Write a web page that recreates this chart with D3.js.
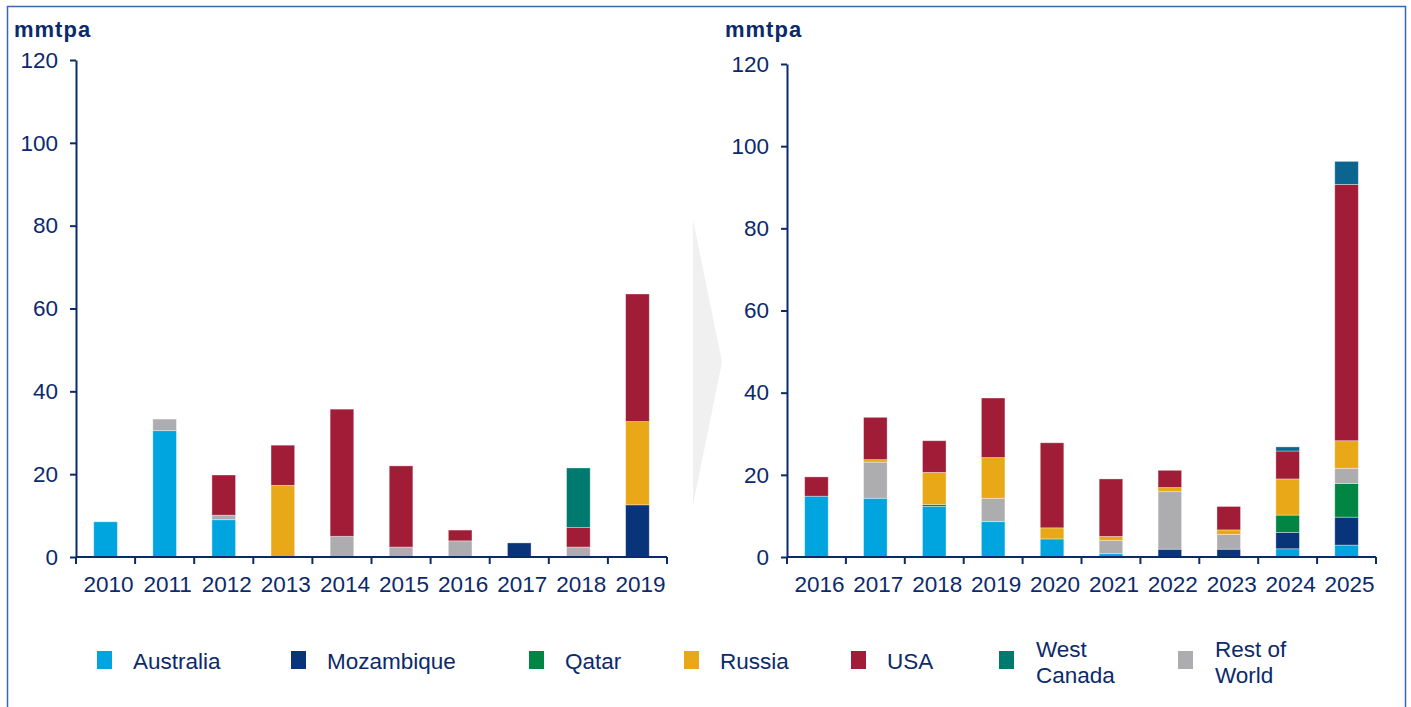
<!DOCTYPE html>
<html>
<head>
<meta charset="utf-8">
<script src="https://cdn.jsdelivr.net/npm/d3@7"></script>
<style>
  body { margin: 0; background: #ffffff; }
  svg text { font-family: "Liberation Sans", Arial, sans-serif; fill: #0b2a6b; }
</style>
</head>
<body>
<div id="chart"></div>
<script>

// series order in the stacks (bottom to top)
const seriesKeys = ['Australia', 'Mozambique', 'Qatar', 'Rest of World', 'Russia', 'USA', 'West Canada'];

// legend order
const legendKeys = ['Australia', 'Mozambique', 'Qatar', 'Russia', 'USA', 'West Canada', 'Rest of World'];

// left panel, 2010-2019
const yearsLeft = ['2010', '2011', '2012', '2013', '2014', '2015', '2016', '2017', '2018', '2019'];
const australiaLeft   = [8.5, 30.5, 9.0, 0, 0, 0, 0, 0, 0, 0];
const mozambiqueLeft  = [0, 0, 0, 0, 0, 0, 0, 3.4, 0, 12.6];
const qatarLeft       = [0, 0, 0, 0, 0, 0, 0, 0, 0, 0];
const restWorldLeft   = [0, 2.8, 1.1, 0, 5.0, 2.4, 3.9, 0, 2.4, 0];
const russiaLeft      = [0, 0, 0, 17.3, 0, 0, 0, 0, 0, 20.1];
const usaLeft         = [0, 0, 9.7, 9.7, 30.7, 19.6, 2.6, 0, 4.7, 30.8];
const westCanadaLeft  = [0, 0, 0, 0, 0, 0, 0, 0, 14.4, 0];

// right panel, 2016-2025
const yearsRight = ['2016', '2017', '2018', '2019', '2020', '2021', '2022', '2023', '2024', '2025'];
const australiaRight  = [14.8, 14.3, 12.3, 8.6, 4.4, 0.8, 0, 0, 2.0, 2.9];
const mozambiqueRight = [0, 0, 0, 0, 0, 0, 1.9, 1.9, 4.0, 6.8];
const qatarRight      = [0, 0, 0.5, 0, 0, 0, 0, 0, 4.2, 8.2];
const restWorldRight  = [0, 8.8, 0, 5.7, 0, 3.2, 14.0, 3.6, 0, 3.7];
const russiaRight     = [0, 0.6, 7.8, 9.9, 2.7, 1.0, 1.0, 1.1, 8.8, 6.7];
const usaRight        = [4.7, 10.3, 7.7, 14.5, 20.7, 14.0, 4.2, 5.7, 6.8, 62.4];
const westCanadaRight = [0, 0, 0, 0, 0, 0, 0, 0, 1.0, 5.6];

const yTicks = [0, 20, 40, 60, 80, 100, 120];

const colors = {
    'Australia': '#00a5e0',
    'Mozambique': '#08357a',
    'Qatar': '#008542',
    'Russia': '#e8a818',
    'USA': '#a01c37',
    'West Canada': '#007a6e',
    'Rest of World': '#adadb0'
};
// the right panel draws West Canada in a bluer shade
const colorsRight = Object.assign({}, colors, { 'West Canada': '#0b6590' });

const navy = '#0b2a6b';

function buildRows(years, cols) {
    return years.map((yr, i) => {
        let row = { year: yr };
        seriesKeys.forEach((k, j) => row[k] = cols[j][i]);
        return row;
    });
}

const rowsLeft = buildRows(yearsLeft, [australiaLeft, mozambiqueLeft, qatarLeft, restWorldLeft, russiaLeft, usaLeft, westCanadaLeft]);
const rowsRight = buildRows(yearsRight, [australiaRight, mozambiqueRight, qatarRight, restWorldRight, russiaRight, usaRight, westCanadaRight]);

const svg = d3.select('#chart').append('svg')
    .attr('width', 1411)
    .attr('height', 707);

// outer frame
svg.append('rect')
    .attr('x', 7.5).attr('y', 6.5)
    .attr('width', 1398).attr('height', 720)
    .attr('fill', 'none')
    .attr('stroke', '#3a68b0')
    .attr('stroke-width', 1.5);

// grey arrow between the panels
svg.append('polygon')
    .attr('points', '693,220 722,362 693,505')
    .attr('fill', '#f0f0f0');

function drawPanel(rows, years, palette, x0, x1, yBottom, yTop, unitX) {

    let x = d3.scaleBand().domain(years).range([x0, x1]).padding(0);
    let y = d3.scaleLinear().domain([0, 120]).range([yBottom, yTop]);
    let stacked = d3.stack().keys(seriesKeys)(rows);
    let barW = x.bandwidth() * 0.4;

    let g = svg.append('g');

    g.selectAll('g.series')
        .data(stacked).enter()
        .append('g')
        .attr('fill', d => palette[d.key])
        .selectAll('rect')
        .data(d => d.filter(s => s[1] - s[0] > 0)).enter()
        .append('rect')
        .attr('x', d => x(d.data.year) + (x.bandwidth() - barW) / 2)
        .attr('y', d => y(d[1]))
        .attr('width', barW)
        .attr('height', d => y(d[0]) - y(d[1]))
        .attr('stroke', 'rgba(255,255,255,0.45)')
        .attr('stroke-width', 0.8);

    // y axis
    let yAxis = g.append('g')
        .attr('transform', 'translate(' + x0 + ',0)')
        .call(d3.axisLeft(y).tickValues(yTicks).tickSize(6).tickPadding(12).tickSizeOuter(0));
    yAxis.select('.domain').attr('stroke', navy).attr('stroke-width', 2);
    yAxis.selectAll('.tick line').attr('stroke', navy).attr('stroke-width', 2);
    yAxis.selectAll('.tick text')
        .attr('fill', navy)
        .style('font-size', '22.5px')
        .attr('font-family', '"Liberation Sans", Arial, sans-serif');

    // x axis line with boundary ticks
    g.append('line')
        .attr('x1', x0).attr('x2', x1)
        .attr('y1', yBottom).attr('y2', yBottom)
        .attr('stroke', navy).attr('stroke-width', 2);

    let bounds = years.map(d => x(d)).concat([x1]);
    g.selectAll('line.xt')
        .data(bounds).enter()
        .append('line')
        .attr('class', 'xt')
        .attr('x1', d => d).attr('x2', d => d)
        .attr('y1', yBottom).attr('y2', yBottom + 7)
        .attr('stroke', navy).attr('stroke-width', 2);

    g.selectAll('text.xl')
        .data(years).enter()
        .append('text')
        .attr('class', 'xl')
        .attr('x', d => x(d) + x.bandwidth() / 2 + 3)
        .attr('y', yBottom + 35)
        .attr('text-anchor', 'middle')
        .style('font-size', '22.5px')
        .text(d => d);

    // unit label
    g.append('text')
        .attr('x', unitX)
        .attr('y', 37)
        .style('font-size', '22px')
        .style('font-weight', 'bold')
        .attr('letter-spacing', '1')
        .text('mmtpa');
}

drawPanel(rowsLeft, yearsLeft, colors, 76, 667, 557, 60, 14);
drawPanel(rowsRight, yearsRight, colorsRight, 787, 1376, 557, 64, 725);

// legend
const legendX = [97, 291, 529, 684, 851, 999, 1178];
let legend = svg.append('g');
legendKeys.forEach((k, i) => {
    let lx = legendX[i];
    legend.append('rect')
        .attr('x', lx).attr('y', 651)
        .attr('width', 15).attr('height', 18)
        .attr('fill', colors[k]);

    let parts = k === 'West Canada' ? ['West', 'Canada']
        : k === 'Rest of World' ? ['Rest of', 'World'] : [k];
    let t = legend.append('text')
        .attr('x', lx + 36)
        .style('font-size', '22.5px');
    if (parts.length === 1) {
        t.attr('y', 669).text(parts[0]);
    } else {
        t.append('tspan').attr('x', lx + 37).attr('y', 657).text(parts[0]);
        t.append('tspan').attr('x', lx + 37).attr('y', 683).text(parts[1]);
    }
});

</script>
</body>
</html>
